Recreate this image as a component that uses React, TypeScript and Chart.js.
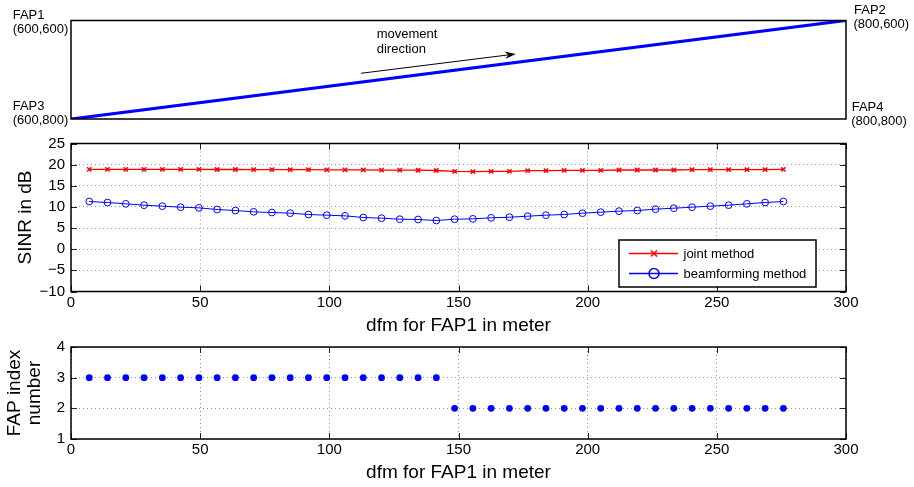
import React, { useEffect, useRef } from 'react';
import { Chart, registerables } from 'chart.js';

Chart.register(...registerables);

const FONT = '"Liberation Sans", Arial, Helvetica, sans-serif';

// ---------------- data ----------------
const dfm = [
  7.07, 14.14, 21.21, 28.28, 35.36, 42.43, 49.5, 56.57, 63.64, 70.71,
  77.78, 84.85, 91.92, 98.99, 106.07, 113.14, 120.21, 127.28, 134.35, 141.42,
  148.49, 155.56, 162.63, 169.71, 176.78, 183.85, 190.92, 197.99, 205.06, 212.13,
  219.2, 226.27, 233.35, 240.42, 247.49, 254.56, 261.63, 268.7, 275.77,
];
const jointSINR = [
  18.9, 18.9, 18.88, 18.88, 18.88, 18.87, 18.86, 18.85, 18.85, 18.84,
  18.82, 18.8, 18.8, 18.78, 18.76, 18.75, 18.72, 18.7, 18.68, 18.62,
  18.41, 18.33, 18.41, 18.41, 18.57, 18.57, 18.65, 18.65, 18.65, 18.73,
  18.73, 18.73, 18.73, 18.81, 18.81, 18.81, 18.81, 18.81, 18.9,
];
const beamSINR = [
  11.28, 11.04, 10.73, 10.41, 10.18, 9.94, 9.78, 9.39, 9.15, 8.84,
  8.68, 8.52, 8.21, 8.05, 7.89, 7.5, 7.34, 7.1, 7.03, 6.79,
  7.1, 7.18, 7.42, 7.57, 7.81, 8.05, 8.21, 8.52, 8.76, 9.0,
  9.15, 9.47, 9.7, 9.94, 10.18, 10.41, 10.73, 11.04, 11.28,
];
const fapIndex = [
  3, 3, 3, 3, 3, 3, 3, 3, 3, 3, 3, 3, 3, 3, 3, 3, 3, 3, 3, 3,
  2, 2, 2, 2, 2, 2, 2, 2, 2, 2, 2, 2, 2, 2, 2, 2, 2, 2, 2,
];
const seriesNames = ['joint method', 'beamforming method'];
const xTitle = 'dfm for FAP1 in meter';
const sinrTitle = 'SINR in dB';
const fapTitle = ['FAP index', 'number'];

// top panel: path of the user and corner access points
const pathX = [600, 800];
const pathY = [800, 600];
const cornerNames = ['FAP1', 'FAP2', 'FAP3', 'FAP4'];
const cornerCoords = ['(600,600)', '(800,600)', '(600,800)', '(800,800)'];
const movementText = ['movement', 'direction'];
const arrowFrom = { x: 674.8, y: 707.2 };
const arrowTo = { x: 714.8, y: 668.0 };
const movementAt = { x: 678.9, y: 636.1 };

// ---------------- helpers ----------------
const fmt = (v: number) => (v < 0 ? '\u2212' + Math.abs(v) : String(v));
const GRID_COLOR = 'rgba(0,0,0,0.42)';

function framePlugin(withTicks: boolean) {
  return {
    id: 'frame' + (withTicks ? 'T' : 'N'),
    afterDraw(chart: any) {
      const { ctx, chartArea: a } = chart;
      ctx.save();
      if (withTicks) {
        const tl = 6;
        ctx.strokeStyle = '#222';
        ctx.lineWidth = 1;
        ctx.beginPath();
        const xs = chart.scales.x;
        const ys = chart.scales.y;
        xs.ticks.forEach((t: any) => {
          const p = Math.round(xs.getPixelForValue(t.value)) + 0.5;
          ctx.moveTo(p, a.bottom);
          ctx.lineTo(p, a.bottom - tl);
          ctx.moveTo(p, a.top);
          ctx.lineTo(p, a.top + tl);
        });
        ys.ticks.forEach((t: any) => {
          const p = Math.round(ys.getPixelForValue(t.value)) + 0.5;
          ctx.moveTo(a.left, p);
          ctx.lineTo(a.left + tl, p);
          ctx.moveTo(a.right, p);
          ctx.lineTo(a.right - tl, p);
        });
        ctx.stroke();
      }
      ctx.strokeStyle = '#000';
      ctx.lineWidth = 1.5;
      ctx.strokeRect(a.left, a.top, a.right - a.left, a.bottom - a.top);
      ctx.restore();
    },
  };
}

const legendPlugin = {
  id: 'sinrLegend',
  afterDraw(chart: any) {
    const { ctx, chartArea: a } = chart;
    const w = 197;
    const h = 47;
    const bx = a.right - 30 - w;
    const by = a.bottom - 4.5 - h;
    ctx.save();
    ctx.fillStyle = '#fff';
    ctx.fillRect(bx, by, w, h);
    ctx.strokeStyle = '#000';
    ctx.lineWidth = 1.5;
    ctx.strokeRect(bx, by, w, h);
    const colors = ['#ff0000', '#0000ff'];
    seriesNames.forEach((name, i) => {
      const y = by + 13.5 + i * 20;
      ctx.strokeStyle = colors[i];
      ctx.lineWidth = 1.3;
      ctx.beginPath();
      ctx.moveTo(bx + 10, y);
      ctx.lineTo(bx + 59, y);
      ctx.stroke();
      const cx = bx + 35;
      ctx.lineWidth = 1.5;
      ctx.beginPath();
      if (i === 0) {
        const r = 3;
        ctx.moveTo(cx - r, y - r);
        ctx.lineTo(cx + r, y + r);
        ctx.moveTo(cx - r, y + r);
        ctx.lineTo(cx + r, y - r);
      } else {
        ctx.arc(cx, y, 5, 0, Math.PI * 2);
      }
      ctx.stroke();
      ctx.fillStyle = '#000';
      ctx.font = '13px ' + FONT;
      ctx.textBaseline = 'middle';
      ctx.textAlign = 'left';
      ctx.fillText(name, bx + 64.5, y + 0.5);
    });
    ctx.restore();
  },
};

const topPlugin = {
  id: 'topAnnot',
  afterDraw(chart: any) {
    const { ctx, chartArea: a } = chart;
    const xs = chart.scales.x;
    const ys = chart.scales.y;
    ctx.save();
    ctx.fillStyle = '#000';
    ctx.font = '13px ' + FONT;
    ctx.textAlign = 'left';
    ctx.textBaseline = 'alphabetic';
    // corner labels: [x, baseline name, baseline coord]
    const pos = [
      [a.left - 58.3, a.top - 1.7, a.top + 12],
      [a.right + 8, a.top - 6.3, a.top + 7.7],
      [a.left - 58.3, a.bottom - 9, a.bottom + 4.5],
      [a.right + 5.7, a.bottom - 8, a.bottom + 6],
    ];
    cornerNames.forEach((n, i) => {
      const [x, y1, y2] = pos[i];
      ctx.fillText(n, x, y1);
      ctx.fillText(cornerCoords[i], i === 1 || i === 3 ? x - 0.5 : x, y2);
    });
    // movement text
    const tx = xs.getPixelForValue(movementAt.x);
    const ty = ys.getPixelForValue(movementAt.y);
    movementText.forEach((t, i) => ctx.fillText(t, tx, ty + i * 15));
    // arrow
    const x0 = xs.getPixelForValue(arrowFrom.x);
    const y0 = ys.getPixelForValue(arrowFrom.y);
    const x1 = xs.getPixelForValue(arrowTo.x);
    const y1 = ys.getPixelForValue(arrowTo.y);
    const ang = Math.atan2(y1 - y0, x1 - x0);
    const L = 11;
    const W = 3.8;
    ctx.strokeStyle = '#000';
    ctx.lineWidth = 1;
    ctx.beginPath();
    ctx.moveTo(x0, y0);
    ctx.lineTo(x1 - Math.cos(ang) * 7, y1 - Math.sin(ang) * 7);
    ctx.stroke();
    ctx.translate(x1, y1);
    ctx.rotate(ang);
    ctx.beginPath();
    ctx.moveTo(0, 0);
    ctx.lineTo(-L, -W);
    ctx.lineTo(-L + 3.5, 0);
    ctx.lineTo(-L, W);
    ctx.closePath();
    ctx.fill();
    ctx.restore();
  },
};

function xAxis(height: number) {
  return {
    type: 'linear',
    min: 0,
    max: 300,
    ticks: { stepSize: 50, padding: 2, color: '#000', font: { size: 15, family: FONT }, maxRotation: 0, autoSkip: false, callback: (v: number) => fmt(v) },
    grid: { color: GRID_COLOR, lineWidth: 1, drawTicks: false },
    border: { display: false, dash: [1, 3] },
    title: { display: true, text: xTitle, color: '#000', font: { size: 19, family: FONT }, padding: { top: 0, bottom: 0 } },
    afterFit: (s: any) => { s.height = height; },
  };
}

function topConfig(): any {
  return {
    type: 'line',
    data: {
      datasets: [{
        data: pathX.map((x, i) => ({ x, y: pathY[i] })),
        borderColor: '#0000ff',
        borderWidth: 3.2,
        pointRadius: 0,
        tension: 0,
      }],
    },
    options: {
      responsive: false,
      animation: false,
      events: [],
      layout: { padding: { left: 71, right: 68, top: 20.5, bottom: 368 } },
      plugins: { legend: { display: false }, tooltip: { enabled: false } },
      scales: {
        x: { type: 'linear', min: 600, max: 800, display: false },
        y: { type: 'linear', min: 600, max: 800, reverse: true, display: false },
      },
    },
    plugins: [framePlugin(false), topPlugin],
  };
}

function sinrConfig(): any {
  return {
    type: 'line',
    data: {
      datasets: [
        {
          label: seriesNames[0],
          data: dfm.map((x, i) => ({ x, y: jointSINR[i] })),
          borderColor: '#ff0000',
          borderWidth: 1.3,
          pointStyle: 'crossRot',
          pointRadius: 3,
          pointBorderColor: '#ff0000',
          pointBackgroundColor: '#ff0000',
          pointBorderWidth: 1.5,
          tension: 0,
        },
        {
          label: seriesNames[1],
          data: dfm.map((x, i) => ({ x, y: beamSINR[i] })),
          borderColor: '#0000ff',
          borderWidth: 1,
          pointStyle: 'circle',
          pointRadius: 3.4,
          pointBorderColor: '#0000ff',
          pointBackgroundColor: 'rgba(0,0,0,0)',
          pointBorderWidth: 1,
          tension: 0,
        },
      ],
    },
    options: {
      responsive: false,
      animation: false,
      events: [],
      layout: { padding: { left: 0, right: 68, top: 143.5, bottom: 149.5 } },
      plugins: { legend: { display: false }, tooltip: { enabled: false } },
      scales: {
        x: xAxis(46),
        y: {
          type: 'linear',
          min: -10,
          max: 25,
          ticks: { stepSize: 5, padding: 6, color: '#000', font: { size: 15, family: FONT }, callback: (v: number) => fmt(v) },
          grid: { color: GRID_COLOR, lineWidth: 1, drawTicks: false },
          border: { display: false, dash: [1, 3] },
          title: { display: true, text: sinrTitle, color: '#000', font: { size: 19, family: FONT }, padding: { top: 14.6, bottom: 0 } },
          afterFit: (s: any) => { s.width = 71; },
        },
      },
    },
    plugins: [framePlugin(true), legendPlugin],
  };
}

function fapConfig(): any {
  return {
    type: 'line',
    data: {
      datasets: [{
        label: 'FAP index',
        data: dfm.map((x, i) => ({ x, y: fapIndex[i] })),
        showLine: false,
        pointStyle: 'circle',
        pointRadius: 3.4,
        pointBorderWidth: 0,
        pointBackgroundColor: '#0000ff',
        pointBorderColor: '#0000ff',
      }],
    },
    options: {
      responsive: false,
      animation: false,
      events: [],
      layout: { padding: { left: 0, right: 68, top: 347, bottom: 2.6 } },
      plugins: { legend: { display: false }, tooltip: { enabled: false } },
      scales: {
        x: xAxis(45.4),
        y: {
          type: 'linear',
          min: 1,
          max: 4,
          ticks: { stepSize: 1, padding: 6, color: '#000', font: { size: 15, family: FONT }, callback: (v: number) => fmt(v) },
          grid: { color: GRID_COLOR, lineWidth: 1, drawTicks: false },
          border: { display: false, dash: [1, 3] },
          title: { display: true, text: fapTitle, color: '#000', font: { size: 19, family: FONT, lineHeight: 1.05 }, padding: { top: 5, bottom: 0 } },
          afterFit: (s: any) => { s.width = 71; },
        },
      },
    },
    plugins: [framePlugin(true)],
  };
}

export default function App() {
  const topRef = useRef<HTMLCanvasElement>(null);
  const midRef = useRef<HTMLCanvasElement>(null);
  const botRef = useRef<HTMLCanvasElement>(null);

  useEffect(() => {
    Chart.defaults.font.family = FONT;
    Chart.defaults.color = '#000';
    const charts = [
      new Chart(topRef.current as HTMLCanvasElement, topConfig()),
      new Chart(midRef.current as HTMLCanvasElement, sinrConfig()),
      new Chart(botRef.current as HTMLCanvasElement, fapConfig()),
    ];
    return () => charts.forEach((c) => c.destroy());
  }, []);

  const cs: React.CSSProperties = { position: 'absolute', left: 0, top: 0, width: 914, height: 487 };
  return (
    <div style={{ position: 'absolute', left: 0, top: 0, width: 914, height: 487, background: '#fff', overflow: 'hidden' }}>
      <canvas ref={topRef} width={914} height={487} style={cs} />
      <canvas ref={midRef} width={914} height={487} style={cs} />
      <canvas ref={botRef} width={914} height={487} style={cs} />
    </div>
  );
}
